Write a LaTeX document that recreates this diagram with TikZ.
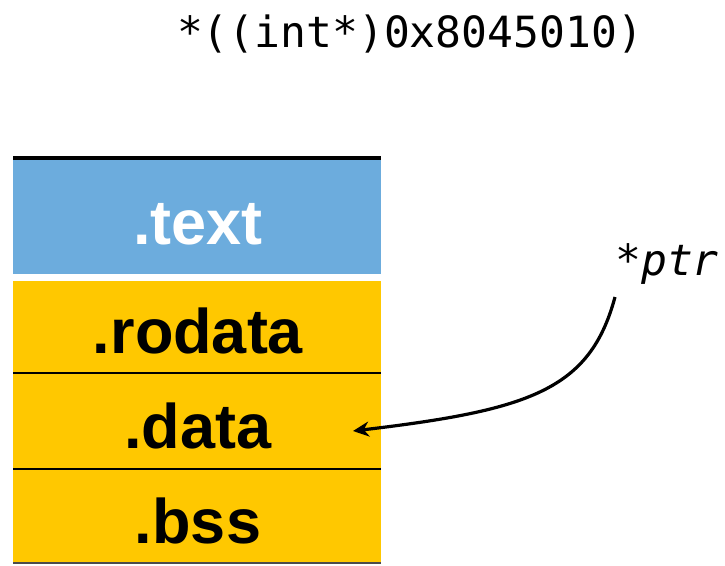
\documentclass[tikz,border=0pt]{standalone}
\usepackage{fontspec}
\setmainfont{Liberation Sans}
\newfontfamily\codefont{DejaVu Sans Mono}
\usetikzlibrary{arrows.meta}
\definecolor{secblue}{RGB}{108,172,221}
\definecolor{secyellow}{RGB}{255,200,0}
\begin{document}
\begin{tikzpicture}[x=1pt,y=-1pt,
  secbox/.style={rectangle, minimum width=368pt, inner sep=0pt, outer sep=0pt, draw=none},
  seclabel/.style={anchor=base, inner sep=0pt, font=\fontsize{63}{63}\selectfont\bfseries},
  codelabel/.style={anchor=base, inner sep=0pt, font=\fontsize{43}{50}\selectfont\codefont},
  sepline/.style={line width=2.6pt, black}]
  \useasboundingbox (0,0) rectangle (725,565);

  % memory sections
  \node[secbox, fill=secblue, minimum height=116pt] (txt) at (197,216) {};
  \node[secbox, fill=secyellow, minimum height=92pt] (rod) at (197,327) {};
  \node[secbox, fill=secyellow, minimum height=96pt] (dat) at (197,421) {};
  \node[secbox, fill=secyellow, minimum height=94pt] (bss) at (197,516) {};

  % section borders
  \draw[line width=3.5pt] (txt.north west) -- (txt.north east);
  \draw[sepline] (rod.south west) -- (rod.south east);
  \draw[sepline] (dat.south west) -- (dat.south east);
  \draw[line width=1.2pt, black!70] (bss.south west) -- (bss.south east);

  % section names
  \node[seclabel, text=white] (ltxt) at (198,244) {.text};
  \node[seclabel] (lrod) at (198,353) {.rodata};
  \node[seclabel] (ldat) at (198,448) {.data};
  \node[seclabel] (lbss) at (198,543) {.bss};

  % expressions
  \node[codelabel] (cast) at (410,47) {*((int*)0x8045010)};
  \node[codelabel] (ptr) at (667,275) {*\textit{ptr}};

  % dereference arrow
  \coordinate (src) at (615,297);
  \coordinate (dst) at (353,431);
  \draw[line width=3.2pt, -{Stealth[length=16pt,width=15pt]}]
    (src) .. controls (590,390) and (530,410) .. (dst);
\end{tikzpicture}
\end{document}
